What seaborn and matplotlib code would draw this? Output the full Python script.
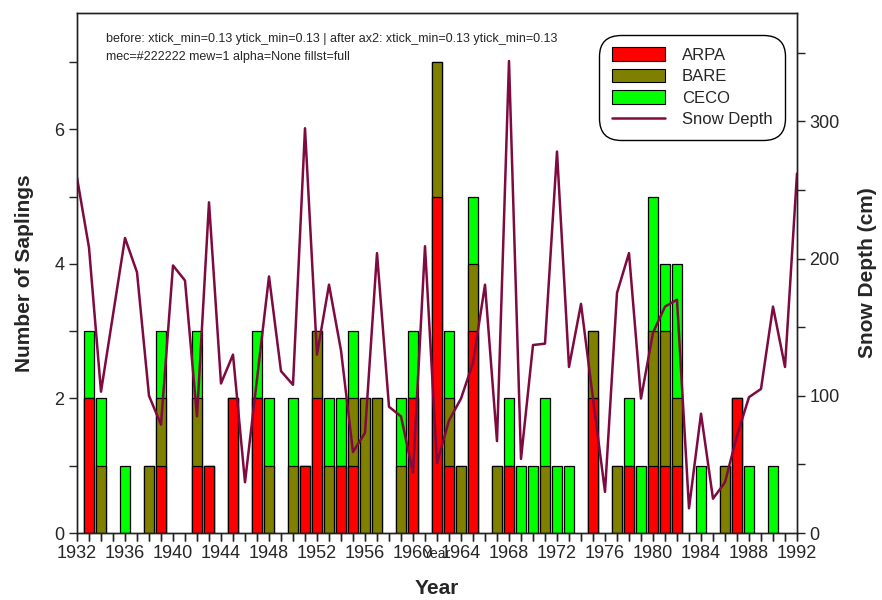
import io
import numpy as np
import pandas as pd
import matplotlib
matplotlib.use("Agg")
import matplotlib.pyplot as plt
from matplotlib.patches import Patch
from matplotlib.lines import Line2D
from matplotlib.ticker import MultipleLocator, FixedLocator, FixedFormatter
import seaborn as sns

years = list(range(1932, 1993))
arpa = [0, 2, 0, 0, 0, 0, 0, 1, 0, 0, 1, 1, 0, 2, 0, 2, 0, 0, 0, 1,
        2, 0, 1, 1, 0, 0, 0, 0, 2, 0, 5, 1, 0, 3, 0, 0, 1, 0, 0, 0,
        0, 0, 0, 2, 0, 0, 1, 0, 1, 1, 1, 0, 0, 0, 0, 2, 0, 0, 0, 0, 0]
bare = [0, 0, 1, 0, 0, 0, 1, 1, 0, 0, 1, 0, 0, 0, 0, 0, 1, 0, 1, 0,
        1, 1, 0, 1, 2, 2, 0, 1, 0, 0, 2, 1, 1, 1, 0, 1, 0, 0, 0, 1,
        0, 0, 0, 1, 0, 1, 0, 0, 2, 2, 1, 0, 0, 0, 1, 0, 0, 0, 0, 0, 0]
ceco = [0, 1, 1, 0, 1, 0, 0, 1, 0, 0, 1, 0, 0, 0, 0, 1, 1, 0, 1, 0,
        0, 1, 1, 1, 0, 0, 0, 1, 1, 0, 0, 1, 0, 1, 0, 0, 1, 1, 1, 1,
        1, 1, 0, 0, 0, 0, 1, 1, 2, 1, 2, 0, 1, 0, 0, 0, 1, 0, 1, 0, 0]
snow = [259, 208, 103, 159, 215, 190, 100, 79, 195, 184, 85, 241, 109, 130, 37, 112,
        187, 118, 108, 295, 130, 181, 133, 59, 73, 204, 92, 85, 44, 209, 51, 82,
        98, 124, 181, 67, 344, 54, 137, 138, 278, 121, 167, 98, 30, 175, 204, 98,
        146, 165, 170, 18, 87, 25, 37, 71, 99, 105, 165, 121, 262]
year_labels = [str(y) if (y - 1932) % 4 == 0 else "" for y in years]

df = pd.DataFrame({"Year": years, "ARPA": arpa, "BARE": bare, "CECO": ceco, "Snow": snow})
df["AB"] = df["ARPA"] + df["BARE"]
df["Total"] = df["AB"] + df["CECO"]

c_red, c_olive, c_green, c_line = "#FF0000", "#808000", "#00FF00", "#7F0A40"

sns.set_style("ticks")
plt.rcParams["font.family"] = ["Liberation Sans", "DejaVu Sans"]

fig = plt.figure(figsize=(8.82, 6.0), dpi=100)
ax = fig.add_axes([77/882, 1-533/600, (797-77)/882, (533-13)/600])

for col, color in [("Total", c_green), ("AB", c_olive), ("ARPA", c_red)]:
    sub = df[df[col] > 0]
    sns.barplot(data=sub, x="Year", y=col, native_scale=True, color=color,
                saturation=1, edgecolor="black", linewidth=0.9, width=0.8,
                errorbar=None, ax=ax)

ax.set_ylim(0, 7.73)
ax.yaxis.set_major_locator(MultipleLocator(2))
ax.yaxis.set_minor_locator(MultipleLocator(1))
ax.set_xlabel("Year", fontsize=15, fontweight="bold", labelpad=12)
ax.set_ylabel("Number of Saplings", fontsize=15, fontweight="bold", labelpad=15)

ax2 = ax.twinx()
sns.lineplot(data=df, x="Year", y="Snow", color=c_line, linewidth=1.8, ax=ax2)
ax2.set_ylim(0, 379)
ax2.yaxis.set_major_locator(MultipleLocator(100))
ax2.yaxis.set_minor_locator(MultipleLocator(50))
ax2.tick_params(axis="y", which="both", direction="out", length=6, width=1,
                labelsize=13, pad=3, color="#222222", right=True)
ax2.set_ylabel("Snow Depth (cm)", fontsize=15, fontweight="bold", labelpad=13)

ax.set_xlim(1932, 1992)
ax.xaxis.set_major_locator(FixedLocator(years))
ax.xaxis.set_major_formatter(FixedFormatter(year_labels))
ax.tick_params(axis="y", which="both", direction="out", length=6, width=1,
               labelsize=13, pad=3, color="#222222", left=True)
ax.tick_params(axis="x", which="major", direction="out", length=6, width=1,
               labelsize=13, pad=3, color="#222222", bottom=True, labelbottom=True)

for a in (ax, ax2):
    for s in a.spines.values():
        s.set_visible(True)
        s.set_linewidth(1.0)
        s.set_color("#222222")

handles = [Patch(facecolor=c_red, edgecolor="black", linewidth=0.8, label="ARPA"),
           Patch(facecolor=c_olive, edgecolor="black", linewidth=0.8, label="BARE"),
           Patch(facecolor=c_green, edgecolor="black", linewidth=0.8, label="CECO"),
           Line2D([0], [0], color=c_line, linewidth=1.8, label="Snow Depth")]
leg = ax2.legend(handles=handles, loc="upper right", bbox_to_anchor=(0.988, 0.965),
                 fontsize=12, frameon=True, fancybox=True, framealpha=1,
                 edgecolor="black", handlelength=3.2, handleheight=0.9,
                 handletextpad=1.0, labelspacing=0.35, borderpad=0.45)
leg.get_frame().set_boxstyle("round,pad=0.3,rounding_size=1.3")
leg.get_frame().set_linewidth(1.0)


def probe():
    buf = io.BytesIO()
    fig.savefig(buf, format="png", dpi=100)
    buf.seek(0)
    img = plt.imread(buf)
    col_x = img[534:541, 85:94, :3].mean(axis=2).min()
    col_y = img[462:470, 68:77, :3].mean(axis=2).min()
    return "xtick_min=%.2f ytick_min=%.2f" % (col_x, col_y)

r1 = probe()
t = ax.xaxis.get_major_ticks()[1]
info = "mec=%s mew=%s alpha=%s fillst=%s" % (t.tick1line.get_markeredgecolor(), t.tick1line.get_markeredgewidth(),
                                             t.tick1line.get_alpha(), t.tick1line.get_fillstyle())
ax2.xaxis.set_visible(True)
ax2.tick_params(axis="x", which="major", direction="out", length=6, width=1,
                color="#222222", bottom=True, labelbottom=False, top=False, labeltop=False)
r2 = probe()
fig.text(0.12, 0.93, "before: " + r1 + " | after ax2: " + r2, fontsize=9)
fig.text(0.12, 0.90, info, fontsize=9)

fig.savefig("out.png", dpi=100)
